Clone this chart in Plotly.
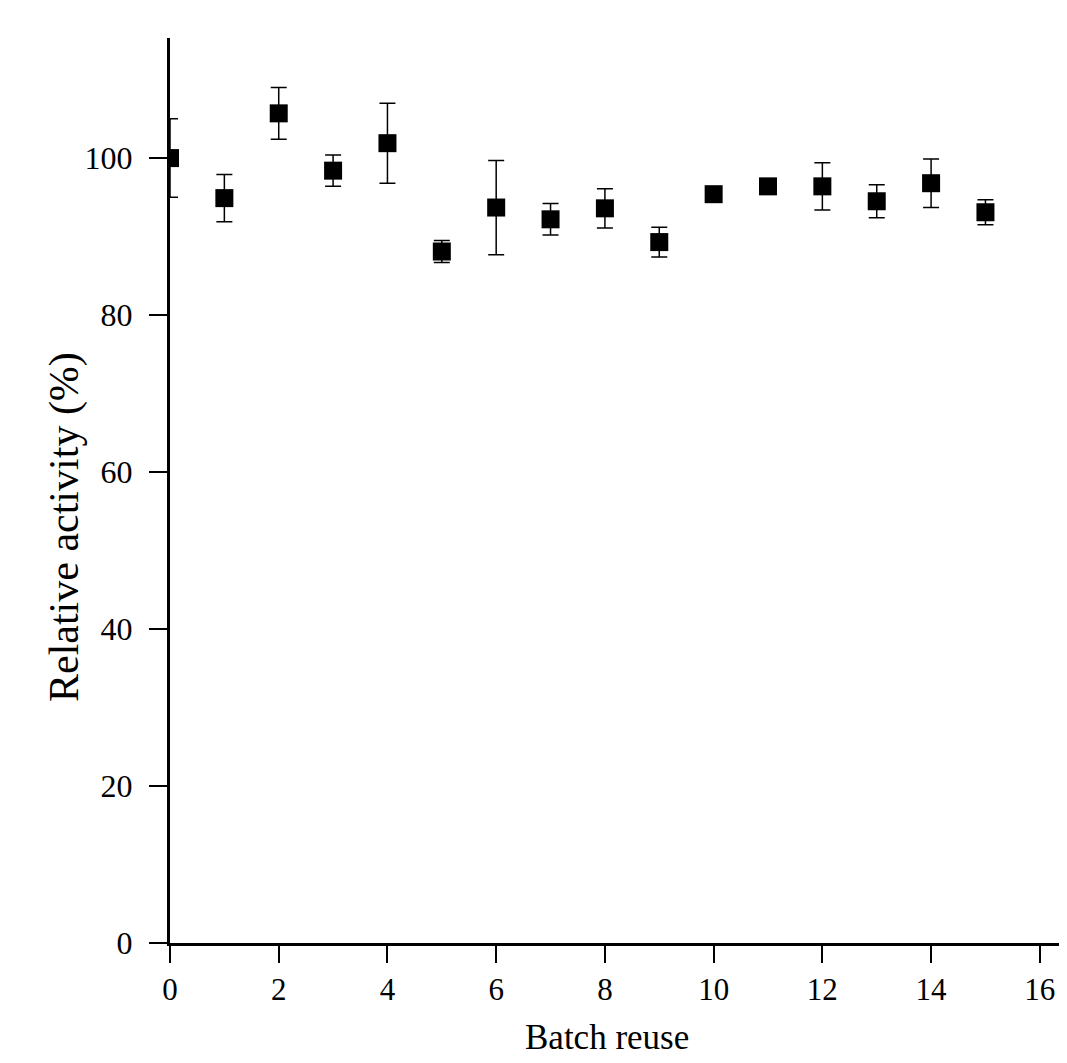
import plotly.graph_objects as go

batch = [0, 1, 2, 3, 4, 5, 6, 7, 8, 9, 10, 11, 12, 13, 14, 15]
activity = [100.0, 94.9, 105.7, 98.4, 101.9, 88.1, 93.7, 92.2, 93.6, 89.3, 95.4, 96.4, 96.4, 94.5, 96.8, 93.1]
error = [5.0, 3.0, 3.3, 2.0, 5.1, 1.4, 6.0, 2.0, 2.5, 1.9, 0.8, 0.8, 3.0, 2.1, 3.1, 1.6]

x_ticks = [0, 2, 4, 6, 8, 10, 12, 14, 16]
y_ticks = [0, 20, 40, 60, 80, 100]
x_title = "Batch reuse"
y_title = "Relative activity (%)"

font_family = "Liberation Serif, Times New Roman, serif"

fig = go.Figure()
fig.add_trace(go.Scatter(
    x=batch, y=activity, mode="markers",
    marker=dict(symbol="square", size=18, color="black"),
    error_y=dict(type="data", array=error, visible=True, color="black", thickness=1.5, width=8),
    showlegend=False,
))

# page body has an 8px default margin; compensate
fig.update_layout(
    width=1059, height=1055,
    margin=dict(l=162, r=0, t=30, b=120),
    paper_bgcolor="white", plot_bgcolor="white",
    font=dict(family=font_family, color="black"),
)
fig.update_xaxes(
    range=[0, 16.5], tickvals=x_ticks, ticktext=[str(v) for v in x_ticks],
    showgrid=False, zeroline=False,
    showline=True, linecolor="black", linewidth=3,
    ticks="outside", ticklen=17, tickwidth=2, tickcolor="black",
    tickfont=dict(size=31, family=font_family),
    layer="above traces",
)
fig.update_yaxes(
    range=[0, 115.3], tickvals=y_ticks, ticktext=[str(v) for v in y_ticks],
    showgrid=False, zeroline=False,
    showline=True, linecolor="black", linewidth=3,
    ticks="outside", ticklen=18, tickwidth=2, tickcolor="black",
    tickfont=dict(size=32, family=font_family), ticklabelstandoff=10,
    layer="above traces",
)
fig.add_annotation(
    text=x_title, xref="paper", yref="paper", x=0.487, y=-0.104,
    xanchor="center", yanchor="middle", showarrow=False,
    font=dict(size=35, family=font_family, color="black"),
)
fig.add_annotation(
    text=y_title, xref="paper", yref="paper", x=-0.117, y=0.4597,
    xanchor="center", yanchor="middle", textangle=-90, showarrow=False,
    font=dict(size=42, family=font_family, color="black"),
)

fig.write_html("out.html")
